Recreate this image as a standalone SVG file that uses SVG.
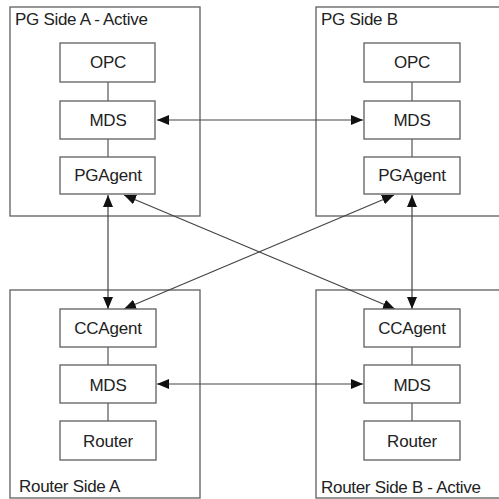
<svg xmlns="http://www.w3.org/2000/svg" width="499" height="499" viewBox="0 0 499 499">
<style>
.outer{fill:#fff;stroke:#6a6a6a;stroke-width:1.4}
.box{fill:#fff;stroke:#6a6a6a;stroke-width:1.4}
.lbl{font-family:"Liberation Sans",Arial,sans-serif;font-size:17px;fill:#222;letter-spacing:-0.3px}
.t{font-family:"Liberation Sans",Arial,sans-serif;font-size:17px;fill:#222;text-anchor:middle;letter-spacing:-0.2px}
.ln{stroke:#555;stroke-width:1.2;fill:none}
.ar{stroke:#444;stroke-width:1.2;fill:none;marker-start:url(#ah);marker-end:url(#ah)}
</style>
<defs>
<marker id="ah" markerUnits="userSpaceOnUse" markerWidth="13" markerHeight="11" refX="12" refY="5" orient="auto-start-reverse">
<path d="M0,0 L12,5 L0,10 z" fill="#111"/>
</marker>
</defs>
<rect width="499" height="499" fill="#fff"/>
<g id="pgA">
<rect class="outer" x="10" y="7" width="190" height="209"/>
<text class="lbl" x="15" y="25">PG Side A - Active</text>
</g>
<g id="pgB">
<rect class="outer" x="316" y="7" width="200" height="209"/>
<text class="lbl" x="321" y="25">PG Side B</text>
</g>
<g id="rtA">
<rect class="outer" x="10" y="290" width="190" height="208"/>
<text class="lbl" x="19" y="492">Router Side A</text>
</g>
<g id="rtB">
<rect class="outer" x="316" y="290" width="200" height="208"/>
<text class="lbl" x="321" y="493">Router Side B - Active</text>
</g>
<g id="connectors">
<line class="ln" x1="108" y1="82" x2="108" y2="101"/>
<line class="ln" x1="108" y1="139" x2="108" y2="157"/>
<line class="ln" x1="412" y1="82" x2="412" y2="101"/>
<line class="ln" x1="412" y1="139" x2="412" y2="157"/>
<line class="ln" x1="108" y1="347" x2="108" y2="365"/>
<line class="ln" x1="108" y1="403" x2="108" y2="421"/>
<line class="ln" x1="412" y1="347" x2="412" y2="365"/>
<line class="ln" x1="412" y1="403" x2="412" y2="421"/>
<line class="ar" x1="157" y1="120" x2="363" y2="120"/>
<line class="ar" x1="157" y1="384" x2="363" y2="384"/>
<line class="ar" x1="108" y1="195" x2="108" y2="309"/>
<line class="ar" x1="412" y1="195" x2="412" y2="309"/>
<line class="ar" x1="124" y1="195" x2="395" y2="309"/>
<line class="ar" x1="124" y1="309" x2="394" y2="195"/>
</g>
<g id="opcA"><rect class="box" x="60" y="43" width="95" height="39"/><text class="t" x="108" y="68">OPC</text></g>
<g id="mdsA"><rect class="box" x="60" y="101" width="95" height="38"/><text class="t" x="108" y="126">MDS</text></g>
<g id="pgagentA"><rect class="box" x="60" y="157" width="95" height="37"/><text class="t" x="108" y="181">PGAgent</text></g>
<g id="opcB"><rect class="box" x="364" y="43" width="96" height="39"/><text class="t" x="412" y="68">OPC</text></g>
<g id="mdsB"><rect class="box" x="364" y="101" width="96" height="38"/><text class="t" x="412" y="126">MDS</text></g>
<g id="pgagentB"><rect class="box" x="364" y="157" width="96" height="37"/><text class="t" x="412" y="181">PGAgent</text></g>
<g id="ccagentA"><rect class="box" x="60" y="309" width="96" height="38"/><text class="t" x="108" y="334">CCAgent</text></g>
<g id="mdsRA"><rect class="box" x="60" y="365" width="96" height="38"/><text class="t" x="108" y="391">MDS</text></g>
<g id="routerA"><rect class="box" x="60" y="421" width="96" height="39"/><text class="t" x="108" y="447">Router</text></g>
<g id="ccagentB"><rect class="box" x="364" y="309" width="96" height="38"/><text class="t" x="412" y="334">CCAgent</text></g>
<g id="mdsRB"><rect class="box" x="364" y="365" width="96" height="38"/><text class="t" x="412" y="391">MDS</text></g>
<g id="routerB"><rect class="box" x="364" y="421" width="96" height="39"/><text class="t" x="412" y="447">Router</text></g>
</svg>
